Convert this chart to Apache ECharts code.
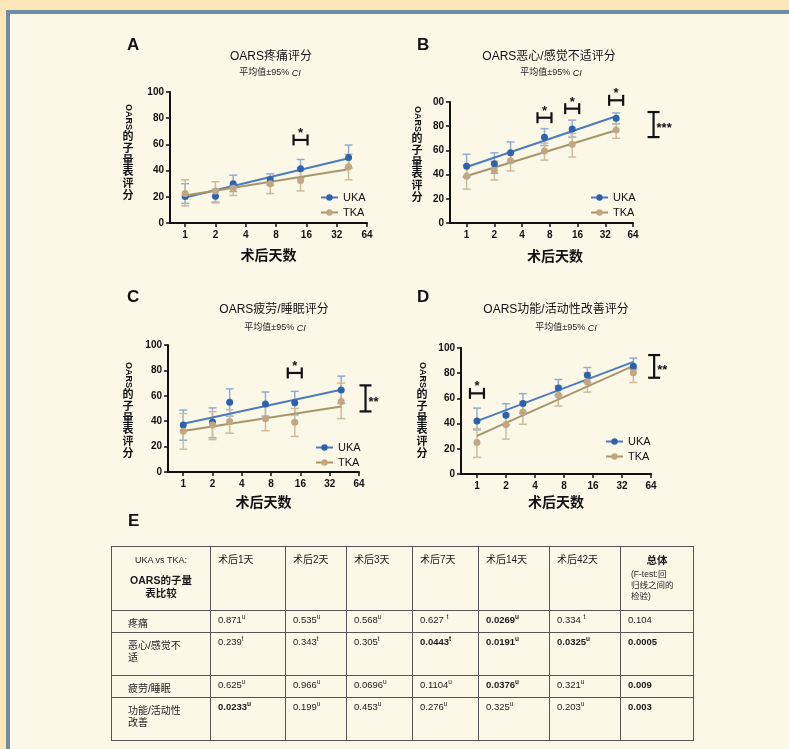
<!DOCTYPE html>
<html>
<head>
<meta charset="utf-8">
<script src="https://cdn.jsdelivr.net/npm/echarts@6/dist/echarts.min.js"></script>
<style>
  html, body { margin: 0; padding: 0; width: 789px; height: 749px; overflow: hidden; background: #fde7b9; }
  #panel { position: absolute; left: 6px; top: 10px; width: 800px; height: 760px; background: #fbf8e8;
           border-top: 4px solid #6e8ca4; border-left: 4px solid #6e8ca4; box-sizing: border-box; }
  #chart { position: absolute; left: 0; top: 0; width: 789px; height: 749px; }
  #tbl { position: absolute; left: 111px; top: 546px; border-collapse: collapse; table-layout: fixed;
         font-family: "Liberation Sans", "Noto Sans CJK SC", sans-serif; font-size: 9.5px; color: #1a1a1a; }
  #tbl td { border: 1.5px solid #555; vertical-align: top; padding: 3px 4px 0 7px; white-space: pre-line; line-height: 12px; }
  #tbl td.lab { padding: 7px 4px 0 16px; font-size: 10px; }
  #tbl tr.head td { padding-top: 7px; font-size: 10px; }
  #tbl td.corner { text-align: center; padding: 3px 2px 0 2px; }
  #tbl td.corner .t1 { font-size: 9px; display: block; margin-bottom: 8px; }
  #tbl td.corner .t2 { font-size: 10.5px; font-weight: bold; display: block; line-height: 13px; }
  #tbl td.total { padding: 5px 2px 0 10px; }
  #tbl td.total .t1 { font-size: 10.5px; font-weight: bold; display: block; text-align: center; padding-right: 8px; margin-bottom: 3px; }
  #tbl td.total .t2 { font-size: 8.5px; display: block; line-height: 11px; }
  #tbl sup { font-size: 6.5px; vertical-align: 4px; line-height: 0; }
  #tbl .b { font-weight: bold; }
</style>
</head>
<body>
<div id="panel"></div>
<div id="chart"></div>
<table id="tbl"></table>
<script>
// ---- measurement days and axis ticks ----
const days = [1, 2, 3, 7, 14, 42];
const fitDays = [1, 42];
const xTicks = [1, 2, 4, 8, 16, 32, 64];

// ---- A: pain ----
const painUKA   = [20.3, 20.5, 30.0, 33.0, 41.5, 50.0];
const painUKALo = [15.0, 15.5, 24.0, 29.0, 34.5, 42.0];
const painUKAHi = [30.0, 25.5, 36.5, 37.5, 48.5, 59.5];
const painTKA   = [22.5, 24.5, 26.5, 30.0, 32.5, 43.0];
const painTKALo = [13.0, 16.0, 21.0, 22.5, 24.5, 33.0];
const painTKAHi = [33.0, 31.5, 29.0, 35.0, 40.0, 52.5];
const painFitUKA = [19.5, 49.5];
const painFitTKA = [21.0, 41.0];

// ---- B: nausea / discomfort ----
const nauseaUKA   = [46.8, 49.0, 58.0, 70.8, 77.6, 86.5];
const nauseaUKALo = [38.0, 41.0, 50.0, 64.0, 71.0, 82.0];
const nauseaUKAHi = [56.8, 58.0, 67.0, 78.0, 85.0, 91.0];
const nauseaTKA   = [38.6, 43.5, 51.5, 59.5, 65.0, 76.8];
const nauseaTKALo = [28.0, 35.5, 43.0, 52.0, 54.5, 70.0];
const nauseaTKAHi = [48.0, 51.0, 58.0, 66.0, 74.0, 82.0];
const nauseaFitUKA = [46.3, 88.2];
const nauseaFitTKA = [38.8, 76.6];

// ---- C: fatigue / sleep ----
const fatigueUKA   = [37.0, 39.3, 55.0, 53.5, 54.5, 64.5];
const fatigueUKALo = [25.0, 27.0, 44.0, 44.0, 45.0, 54.0];
const fatigueUKAHi = [48.8, 50.5, 65.5, 63.0, 63.5, 75.5];
const fatigueTKA   = [32.0, 37.0, 39.8, 42.0, 39.2, 55.5];
const fatigueTKALo = [18.0, 25.5, 30.5, 32.5, 28.0, 42.0];
const fatigueTKAHi = [46.0, 47.5, 49.0, 51.5, 50.0, 70.0];
const fatigueFitUKA = [38.0, 64.7];
const fatigueFitTKA = [32.2, 51.5];

// ---- D: function / activity ----
const functionUKA   = [42.0, 46.7, 56.0, 68.3, 78.4, 85.5];
const functionUKALo = [35.0, 39.0, 48.0, 62.5, 72.5, 83.0];
const functionUKAHi = [52.3, 55.8, 63.8, 75.0, 84.5, 92.0];
const functionTKA   = [25.0, 39.3, 49.3, 62.5, 73.0, 80.3];
const functionTKALo = [13.2, 27.7, 39.5, 54.0, 65.0, 72.6];
const functionTKAHi = [36.0, 48.0, 57.5, 70.0, 80.5, 84.0];
const functionFitUKA = [42.0, 89.0];
const functionFitTKA = [30.3, 85.8];

// ---- significance marks: per-day brackets (day, y) and overall brackets (day, yLow, yHigh) ----
const painSigDays = [14],         painSigY = [63.4];
const nauseaSigDays = [7, 14, 42], nauseaSigY = [87, 94.5, 101.4];
const fatigueSigDays = [14],      fatigueSigY = [78];
const functionSigDays = [1],      functionSigY = [64];
const overallSig = [null, [107, 71, 91.7], [74.7, 47.7, 68.2], [69, 76.4, 94.4]];
const overallStars = ['', '***', '**', '**'];

// ---- panel text ----
const panelLetters = ['A', 'B', 'C', 'D'];
const panelTitles = ['OARS疼痛评分', 'OARS恶心/感觉不适评分', 'OARS疲劳/睡眠评分', 'OARS功能/活动性改善评分'];
const seriesNames = ['UKA', 'TKA'];

// ---- table E ----
const tableCols = ['术后1天', '术后2天', '术后3天', '术后7天', '术后14天', '术后42天'];
const tableRows = ['疼痛', '恶心/感觉不\n适', '疲劳/睡眠', '功能/活动性\n改善'];
const pPain     = ['0.871', '0.535', '0.568', '0.627 ', '0.0269', '0.334 '];
const pNausea   = ['0.239', '0.343', '0.305', '0.0443', '0.0191', '0.0325'];
const pFatigue  = ['0.625', '0.966', '0.0696', '0.1104', '0.0376', '0.321'];
const pFunction = ['0.0233', '0.199', '0.453', '0.276', '0.325', '0.203'];
const testPain     = ['u', 'u', 'u', 't', 'u', 't'];
const testNausea   = ['t', 't', 't', 't', 'u', 'u'];
const testFatigue  = ['u', 'u', 'u', 'u', 'u', 'u'];
const testFunction = ['u', 'u', 'u', 'u', 'u', 'u'];
const pOverall = ['0.104', '0.0005', '0.009', '0.003'];

// ---------------- layout & style ----------------
const FONT = '"Liberation Sans", "Noto Sans CJK SC", sans-serif';
const INK = '#111';
const COL_UKA = { line: '#4a7bc0', point: '#2f62ad', bar: '#93acd0' };
const COL_TKA = { line: '#a8966b', point: '#c2a682', bar: '#cdbb9c' };

const layout = [
  { grid: { left: 170, top: 92,  width: 197, height: 131 }, xMinExp: -0.5,  nameGap: 26, namePad: 0,
    letter: [127, 45],  title: [271, 57],  sub: [270, 73],  yName: [128, 117], legend: [315, 187] },
  { grid: { left: 450, top: 102, width: 183, height: 121 }, xMinExp: -0.6,  nameGap: 27, namePad: 27,
    letter: [417, 45],  title: [549, 57],  sub: [551, 73],  yName: [417, 119], legend: [585, 187] },
  { grid: { left: 168, top: 345, width: 191, height: 127 }, xMinExp: -0.52, nameGap: 24, namePad: 0,
    letter: [127, 297], title: [274, 310], sub: [275, 328], yName: [128, 375], legend: [310, 437] },
  { grid: { left: 461, top: 348, width: 190, height: 126 }, xMinExp: -0.55, nameGap: 22, namePad: 0,
    letter: [417, 297], title: [556, 310], sub: [566, 328], yName: [422, 375], legend: [600, 431] }
];

const panelData = [
  { uka: [painUKA, painUKALo, painUKAHi], tka: [painTKA, painTKALo, painTKAHi], fit: [painFitUKA, painFitTKA], sig: [painSigDays, painSigY] },
  { uka: [nauseaUKA, nauseaUKALo, nauseaUKAHi], tka: [nauseaTKA, nauseaTKALo, nauseaTKAHi], fit: [nauseaFitUKA, nauseaFitTKA], sig: [nauseaSigDays, nauseaSigY] },
  { uka: [fatigueUKA, fatigueUKALo, fatigueUKAHi], tka: [fatigueTKA, fatigueTKALo, fatigueTKAHi], fit: [fatigueFitUKA, fatigueFitTKA], sig: [fatigueSigDays, fatigueSigY] },
  { uka: [functionUKA, functionUKALo, functionUKAHi], tka: [functionTKA, functionTKALo, functionTKAHi], fit: [functionFitUKA, functionFitTKA], sig: [functionSigDays, functionSigY] }
];

// vertical 95% CI bar with caps
function renderErrorBar(params, api) {
  const x = api.value(0);
  const lo = api.coord([x, api.value(1)]);
  const hi = api.coord([x, api.value(2)]);
  const cap = 4;
  const style = { stroke: api.visual('color'), lineWidth: 1.5, fill: null };
  return { type: 'group', children: [
    { type: 'line', shape: { x1: lo[0], y1: lo[1], x2: hi[0], y2: hi[1] }, style },
    { type: 'line', shape: { x1: lo[0] - cap, y1: lo[1], x2: lo[0] + cap, y2: lo[1] }, style },
    { type: 'line', shape: { x1: hi[0] - cap, y1: hi[1], x2: hi[0] + cap, y2: hi[1] }, style }
  ]};
}

// horizontal H bracket over one day, with a star above
function renderDayBracket(params, api) {
  const c = api.coord([api.value(0), api.value(1)]);
  const hw = 7, hh = 5.5;
  const style = { stroke: INK, lineWidth: 2.2, fill: null };
  return { type: 'group', children: [
    { type: 'line', shape: { x1: c[0] - hw, y1: c[1], x2: c[0] + hw, y2: c[1] }, style },
    { type: 'line', shape: { x1: c[0] - hw, y1: c[1] - hh, x2: c[0] - hw, y2: c[1] + hh }, style },
    { type: 'line', shape: { x1: c[0] + hw, y1: c[1] - hh, x2: c[0] + hw, y2: c[1] + hh }, style },
    { type: 'text', x: c[0], y: c[1] - 6.5,
      style: { text: '*', font: 'bold 13px ' + FONT, fill: INK, align: 'center', verticalAlign: 'middle' } }
  ]};
}

// vertical bracket comparing the two regression lines
function makeOverallRenderer(stars) {
  return function (params, api) {
    const x = api.value(0);
    const lo = api.coord([x, api.value(1)]);
    const hi = api.coord([x, api.value(2)]);
    const cap = 6;
    const style = { stroke: INK, lineWidth: 2.2, fill: null };
    return { type: 'group', children: [
      { type: 'line', shape: { x1: lo[0], y1: lo[1], x2: hi[0], y2: hi[1] }, style },
      { type: 'line', shape: { x1: lo[0] - cap, y1: lo[1], x2: lo[0] + cap, y2: lo[1] }, style },
      { type: 'line', shape: { x1: hi[0] - cap, y1: hi[1], x2: hi[0] + cap, y2: hi[1] }, style },
      { type: 'text', x: lo[0] + 3, y: (lo[1] + hi[1]) / 2 + 4,
        style: { text: stars, font: 'bold 13px ' + FONT, fill: INK, align: 'left', verticalAlign: 'middle' } }
    ]};
  };
}

const grids = [], xAxes = [], yAxes = [], legends = [], graphics = [];

// fit lines first so the legend icons come from them (line + dot)
const fitSeries = [], otherSeries = [];

panelData.forEach((pd, i) => {
  const L = layout[i];
  grids.push(Object.assign({ containLabel: false, outerBoundsMode: 'none' }, L.grid));

  xAxes.push({
    type: 'log', logBase: 2, gridIndex: i,
    min: Math.pow(2, L.xMinExp), max: 64,
    name: '术后天数', nameLocation: 'middle', nameGap: L.nameGap,
    nameTextStyle: { fontSize: 14, fontWeight: 'bold', color: INK, fontFamily: FONT, padding: [0, 0, 0, L.namePad] },
    axisLine: { show: true, lineStyle: { color: INK, width: 2 } },
    axisTick: { show: true, length: 4, lineStyle: { color: INK, width: 1.5 }, customValues: xTicks },
    axisLabel: { customValues: xTicks, fontSize: 10, fontWeight: 'bold', color: INK, fontFamily: FONT, margin: 7,
                 formatter: v => String(Math.round(v)) },
    splitLine: { show: false }, minorTick: { show: false }, minorSplitLine: { show: false }
  });

  yAxes.push({
    type: 'value', gridIndex: i, min: 0, max: 100, interval: 20,
    axisLine: { show: true, lineStyle: { color: INK, width: 2 } },
    axisTick: { show: true, length: 4, lineStyle: { color: INK, width: 1.5 } },
    axisLabel: { fontSize: 10, fontWeight: 'bold', color: INK, fontFamily: FONT, margin: 6,
                 formatter: v => (i === 1 && v === 100) ? '00' : String(v) },
    splitLine: { show: false }
  });

  const groups = [[pd.uka, COL_UKA, seriesNames[0], pd.fit[0]], [pd.tka, COL_TKA, seriesNames[1], pd.fit[1]]];

  groups.forEach(([vals, col, name, fit]) => {
    fitSeries.push({
      type: 'line', name, xAxisIndex: i, yAxisIndex: i, z: 3,
      data: fitDays.map((d, k) => [d, fit[k]]),
      symbol: 'none', lineStyle: { color: col.line, width: 2 }, itemStyle: { color: col.point },
      silent: true, animation: false
    });
    otherSeries.push({
      type: 'custom', name: name + ' CI', xAxisIndex: i, yAxisIndex: i, z: 2,
      data: days.map((d, k) => [d, vals[1][k], vals[2][k]]),
      encode: { x: 0, y: [1, 2] }, renderItem: renderErrorBar,
      itemStyle: { color: col.bar }, silent: true, animation: false
    });
  });
  groups.forEach(([vals, col, name]) => {
    otherSeries.push({
      type: 'scatter', name, xAxisIndex: i, yAxisIndex: i, z: 4,
      data: days.map((d, k) => [d, vals[0][k]]),
      symbol: 'circle', symbolSize: 7, itemStyle: { color: col.point, opacity: 1 },
      silent: true, animation: false
    });
  });

  otherSeries.push({
    type: 'custom', name: 'sig-day-' + i, xAxisIndex: i, yAxisIndex: i, z: 5, clip: false,
    data: pd.sig[0].map((d, k) => [d, pd.sig[1][k]]),
    encode: { x: 0, y: 1 }, renderItem: renderDayBracket, silent: true, animation: false
  });
  if (overallSig[i]) {
    otherSeries.push({
      type: 'custom', name: 'sig-all-' + i, xAxisIndex: i, yAxisIndex: i, z: 5, clip: false,
      data: [overallSig[i]], encode: { x: 0, y: [1, 2] },
      renderItem: makeOverallRenderer(overallStars[i]), silent: true, animation: false
    });
  }

  legends.push({
    data: seriesNames, left: L.legend[0], top: L.legend[1], orient: 'vertical',
    itemWidth: 17, itemHeight: 8, itemGap: 4, selectedMode: false,
    textStyle: { fontSize: 11, color: INK, fontFamily: FONT }
  });

  // panel letter, title, subtitle and vertical y-axis name
  graphics.push(
    { type: 'text', x: L.letter[0], y: L.letter[1],
      style: { text: panelLetters[i], font: 'bold 17px ' + FONT, fill: INK, align: 'left', verticalAlign: 'middle' } },
    { type: 'text', x: L.title[0], y: L.title[1],
      style: { text: panelTitles[i], font: '12px ' + FONT, fill: INK, align: 'center', verticalAlign: 'middle' } },
    { type: 'text', x: L.sub[0], y: L.sub[1],
      style: { text: '平均值±95% {i|CI}', font: '9px ' + FONT, fill: '#222', align: 'center', verticalAlign: 'middle',
               rich: { i: { fontStyle: 'italic', fontSize: 9, fontFamily: FONT, fill: '#222' } } } },
    { type: 'text', x: L.yName[0], y: L.yName[1], rotation: -Math.PI / 2,
      style: { text: 'OARS', font: 'bold 9px ' + FONT, fill: INK, align: 'center', verticalAlign: 'middle' } },
    { type: 'text', x: L.yName[0], y: L.yName[1] + 14.5,
      style: { text: '的子量表评分'.split('').join('\n'), font: 'bold 11px ' + FONT, lineHeight: 11.7,
               fill: INK, align: 'center', verticalAlign: 'top' } }
  );
});

graphics.push({ type: 'text', x: 128, y: 521,
  style: { text: 'E', font: 'bold 17px ' + FONT, fill: INK, align: 'left', verticalAlign: 'middle' } });

const chart = echarts.init(document.getElementById('chart'), null, { renderer: 'canvas' });
chart.setOption({
  backgroundColor: 'transparent',
  animation: false,
  grid: grids, xAxis: xAxes, yAxis: yAxes, legend: legends,
  series: fitSeries.concat(otherSeries),
  graphic: graphics
});

// ---------------- table E ----------------
const colWidths = [99, 75, 61, 66, 66, 71, 71, 73];
const rowHeights = [64, 22, 43, 22, 43];
const pRows = [pPain, pNausea, pFatigue, pFunction];
const tRows = [testPain, testNausea, testFatigue, testFunction];

const tbl = document.getElementById('tbl');
let html = '<colgroup>' + colWidths.map(w => '<col style="width:' + w + 'px">').join('') + '</colgroup>';
html += '<tr class="head" style="height:' + rowHeights[0] + 'px">';
html += '<td class="corner"><span class="t1">UKA vs TKA:</span><span class="t2">OARS的子量\n表比较</span></td>';
tableCols.forEach(c => { html += '<td>' + c + '</td>'; });
html += '<td class="total"><span class="t1">总体</span><span class="t2">(F-test:回\n归线之间的\n检验)</span></td>';
html += '</tr>';
tableRows.forEach((r, ri) => {
  html += '<tr style="height:' + rowHeights[ri + 1] + 'px"><td class="lab">' + r + '</td>';
  pRows[ri].forEach((p, ci) => {
    const bold = parseFloat(p) < 0.05 ? ' class="b"' : '';
    html += '<td><span' + bold + '>' + p + '<sup>' + tRows[ri][ci] + '</sup></span></td>';
  });
  const ob = parseFloat(pOverall[ri]) < 0.05 ? ' class="b"' : '';
  html += '<td><span' + ob + '>' + pOverall[ri] + '</span></td></tr>';
});
tbl.innerHTML = html;
</script>
</body>
</html>
